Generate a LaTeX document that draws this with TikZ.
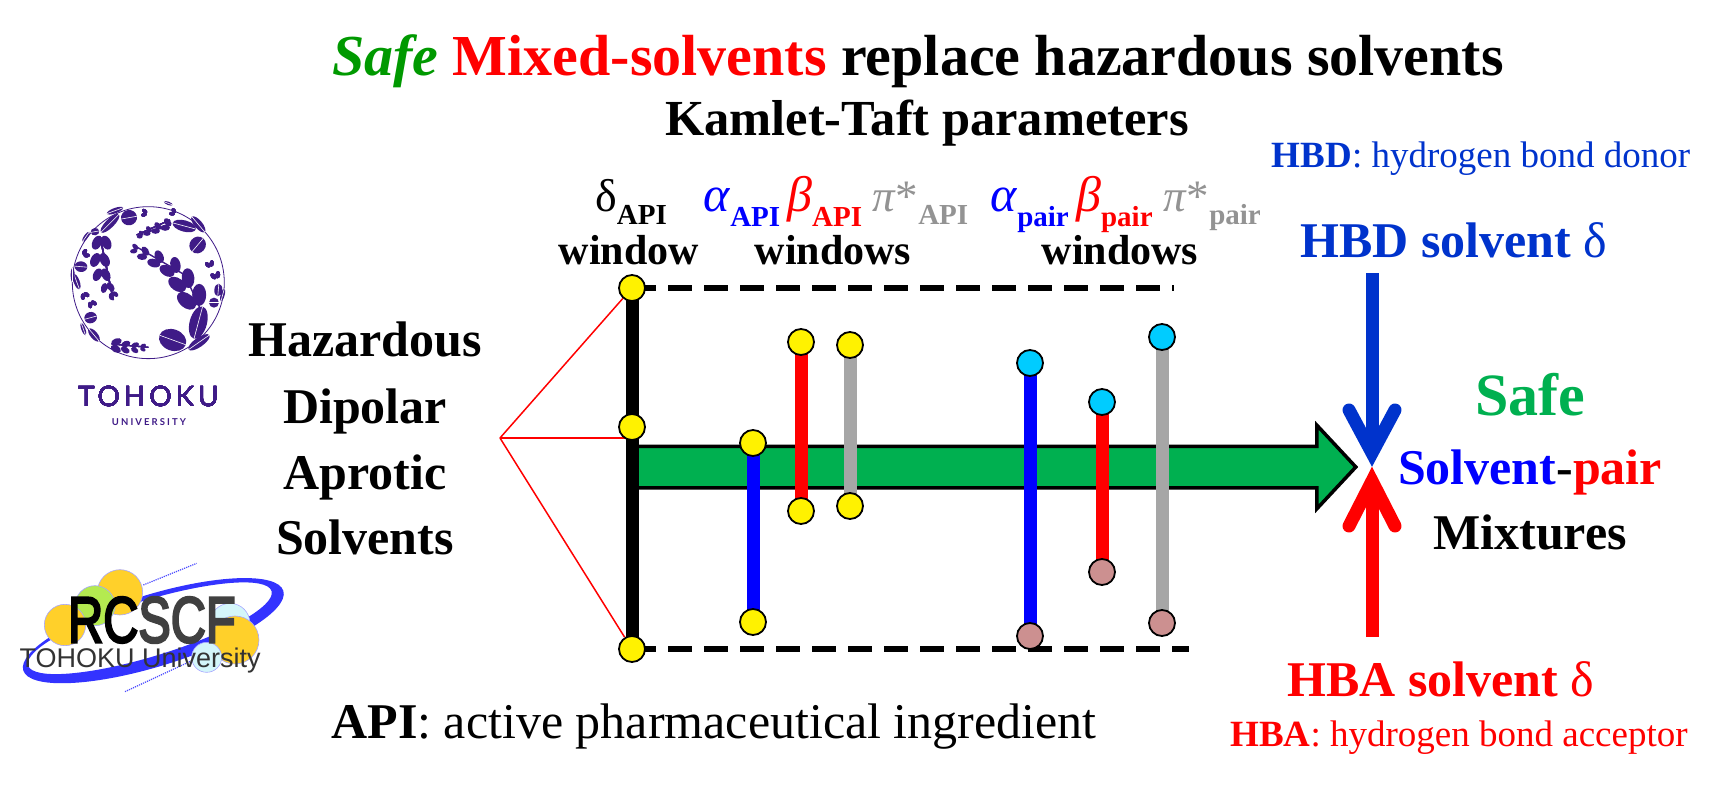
\documentclass[tikz,border=0pt]{standalone}
\usepackage{fontspec}
\setmainfont{Liberation Serif}
\newfontfamily\logofont{Liberation Sans}
\newfontfamily\rcfont[FakeBold=4]{Liberation Sans}
\newfontfamily\tohokufont[LetterSpace=14]{Lato}
\newfontfamily\tohokusmall[LetterSpace=22]{Lato}
\usetikzlibrary{
  shapes,
  backgrounds,  % Predefined layer named "background"
}
\definecolor{safegreen}{HTML}{00B050}
\definecolor{titlegreen}{HTML}{009900}
\definecolor{hbdblue}{HTML}{0033CC}
\definecolor{winblue}{HTML}{0000FF}
\definecolor{wingray}{HTML}{A6A6A6}
\definecolor{textgray}{HTML}{939393}
\definecolor{endcyan}{HTML}{00CCFF}
\definecolor{endbrown}{HTML}{CC9090}
\definecolor{tohoku}{HTML}{3F1B87}
\definecolor{rcyellow}{HTML}{FFD02A}
\definecolor{rcgreen}{HTML}{B4EA50}
\definecolor{rccyan}{HTML}{D4F6FA}
\def\mybarwidth{13pt}
\newcommand{\fs}[1]{\fontsize{#1}{#1}\selectfont}
\newcommand{\kt}[3]{\textcolor{#1}{#2\raisebox{-0.3em}{\fs{29}\bfseries #3}}}
\newcommand{\sprig}[4]{
  \fill[tohoku,shift={(#1,#2)},rotate=-#3,scale=#4]
    (-7,-9) ellipse [x radius=7,y radius=11,rotate=25]
    (7,-9) ellipse [x radius=7,y radius=11,rotate=-25];
}
\newcommand{\leafy}[5]{
  \fill[tohoku,shift={(#1,#2)},rotate=-#3] (0,0) ellipse [x radius=#4,y radius=#5];
  \draw[white,line width=0.6pt,shift={(#1,#2)},rotate=-#3] (-#4,0) -- (#4,0);
}
\tikzset{
  >=stealth,
  plain text/.style={inner sep=0,anchor=base,align=center},
  big label/.style={plain text,font=\fs{50.5}\bfseries},
  mid label/.style={plain text,font=\fs{50}\bfseries},
  small label/.style={plain text,font=\fs{37}},
  win label/.style={inner sep=0,anchor=base west,font=\fs{50}},
  pi label/.style={win label,font=\fs{45}},
  win word/.style={plain text,font=\fs{42}\bfseries},
  my end/.style={draw=black,line width=1.8pt,circle,minimum size=26pt,inner sep=0},
  yellow end/.style={my end,fill=yellow},
  cyan end/.style={my end,fill=endcyan},
  brown end/.style={my end,fill=endbrown},
  win bar/.style={line width=\mybarwidth},
  dash line/.style={line width=5.5pt,dash pattern=on 24pt off 12pt},
  red link/.style={red,line width=1.5pt},
  flow arrow/.style={
    single arrow,draw=black,fill=safegreen,line width=3.5pt,
    inner xsep=0,inner ysep=19pt,minimum width=80pt,minimum height=722pt,
    single arrow head extend=21pt,single arrow tip angle=94,anchor=west
  },
  solvent arrow/.style={line width=13pt,line cap=round,miter limit=20}
}
\begin{document}
\begin{tikzpicture}[x=1pt,y=-1pt]
\useasboundingbox (0,0) rectangle (1714,787);
% titles
\node[plain text,font=\fs{58}\bfseries] (title) at (918,75)
  {\textcolor{titlegreen}{\textit{Safe}} \textcolor{red}{Mixed-solvents} replace hazardous solvents};
\node[big label] (kamlet) at (927,135) {Kamlet-Taft parameters};
\node[small label] (hbdnote) at (1481,167) {\textcolor{hbdblue}{\textbf{HBD}: hydrogen bond donor}};
\node[mid label,hbdblue] (hbdname) at (1454,257) {HBD solvent \textnormal{δ}};
\node[plain text,font=\fs{60}\bfseries,safegreen] (safe) at (1530,415) {Safe};
\node[mid label] (pair) at (1530,484) {\textcolor{winblue}{Solvent}-\textcolor{red}{pair}};
\node[mid label] (mixtures) at (1530,549) {Mixtures};
\node[mid label,red] (hbaname) at (1441,696) {HBA solvent \textnormal{δ}};
\node[small label,red] (hbanote) at (1459,746) {\textbf{HBA}: hydrogen bond acceptor};
\node[plain text,font=\fs{50}] (apinote) at (714,738) {\textbf{API}: active pharmaceutical ingredient};
\node[mid label] (haz1) at (365,356) {Hazardous};
\node[mid label] (haz2) at (365,423) {Dipolar};
\node[mid label] (haz3) at (365,489) {Aprotic};
\node[mid label] (haz4) at (365,554) {Solvents};
% window headings
\node[win label,font=\fs{46}] (dlabel) at (595,211) {\kt{black}{δ}{API}};
\node[win word] (dwin) at (629,264) {window};
\node[win label] (alabel) at (703,211) {\kt{winblue}{\textit{α}}{API}};
\node[win label] (blabel) at (787,211) {\kt{red}{\textit{β}}{API}};
\node[pi label] (plabel) at (872,211) {\kt{textgray}{\textit{π}*}{API}};
\node[win word] (awin) at (833,264) {windows};
\node[win label] (a2label) at (990,211) {\kt{winblue}{\textit{α}}{pair}};
\node[win label] (b2label) at (1076,211) {\kt{red}{\textit{β}}{pair}};
\node[pi label] (p2label) at (1163,211) {\kt{textgray}{\textit{π}*}{pair}};
\node[win word] (a2win) at (1120,264) {windows};
% window ends
\node[yellow end] (dtop) at (632,288) {};
\node[yellow end] (dmid) at (632,427) {};
\node[yellow end] (dbot) at (632,649) {};
\node[yellow end] (atop) at (753,443) {};
\node[yellow end] (abot) at (753,622) {};
\node[yellow end] (btop) at (801,342) {};
\node[yellow end] (bbot) at (801,511) {};
\node[yellow end] (ptop) at (850,345) {};
\node[yellow end] (pbot) at (850,506) {};
\node[cyan end]   (a2top) at (1030,363) {};
\node[brown end]  (a2bot) at (1030,636) {};
\node[cyan end]   (b2top) at (1102,402) {};
\node[brown end]  (b2bot) at (1102,572) {};
\node[cyan end]   (p2top) at (1162,337) {};
\node[brown end]  (p2bot) at (1162,623) {};
\coordinate (dashtop) at (1174,288);
\coordinate (dashbot) at (1189,649);
\coordinate (fan) at (500,438);
\coordinate (fanmid) at (628,438);
% solvent arrows
\coordinate (hbdtail) at (1372,273);
\coordinate (hbdtip)  at (1372,453);
\coordinate (hbdl)    at (1349,410);
\coordinate (hbdr)    at (1395,410);
\coordinate (hbatail) at (1372,637);
\coordinate (hbatip)  at (1372,481);
\coordinate (hbal)    at (1349,526);
\coordinate (hbar)    at (1395,526);
\draw[solvent arrow,hbdblue,line cap=butt] (hbdtail) -- (hbdtip);
\draw[solvent arrow,hbdblue] (hbdl) -- (hbdtip) -- (hbdr);
\draw[solvent arrow,red,line cap=butt] (hbatail) -- (hbatip);
\draw[solvent arrow,red] (hbal) -- (hbatip) -- (hbar);
\begin{scope}[on background layer]
  \path[red link] (fan) edge (dtop) edge (fanmid) edge (dbot);
  \node[flow arrow] (flow) at (632,467) {};
  \draw[dash line] (dtop.center) -- (dashtop);
  \draw[dash line] (dbot.center) -- (dashbot);
  \draw[win bar,black]    (dtop.center) -- (dbot.center);
  \draw[win bar,winblue]  (atop.center) -- (abot.center);
  \draw[win bar,red]      (btop.center) -- (bbot.center);
  \draw[win bar,wingray]  (ptop.center) -- (pbot.center);
  \draw[win bar,winblue]  (a2top.center) -- (a2bot.center);
  \draw[win bar,red]      (b2top.center) -- (b2bot.center);
  \draw[win bar,wingray]  (p2top.center) -- (p2bot.center);
\end{scope}
% university mark
\begin{scope}[shift={(0,180)},x=0.3333pt,y=-0.3333pt]
  \draw[tohoku,line width=0.8pt] (445,308) circle [radius=228];
  \leafy{387}{113}{-10}{24}{23}
  \leafy{593}{195}{-50}{26}{24}
  \leafy{272}{413}{-15}{19}{17}
  \leafy{243}{260}{5}{19}{16}
  \leafy{642}{368}{0}{15}{15}
  \leafy{655}{330}{-85}{19}{12}
  \leafy{285}{155}{-10}{13}{11}
  \leafy{330}{130}{-45}{38}{13}
  \leafy{345}{92}{-20}{26}{8}
  \leafy{553}{138}{15}{36}{17}
  \leafy{595}{133}{50}{30}{12}
  \leafy{595}{428}{-75}{50}{26}
  \leafy{518}{480}{20}{42}{32}
  \leafy{597}{487}{-35}{38}{14}
  \leafy{282}{465}{50}{24}{11}
  \leafy{250}{447}{70}{20}{6}
  \leafy{230}{305}{70}{24}{9}
  \leafy{218}{285}{90}{22}{6}
  \leafy{668}{345}{-75}{20}{6}
  \leafy{258}{170}{-55}{18}{6}
  \leafy{505}{70}{20}{14}{5}
  \draw[tohoku,line width=1.4pt] (600,385) -- (555,285) -- (400,195);
  \foreach \x/\y/\r/\s in {590/378/-25/3.0,560/325/-30/2.7,525/280/-35/2.2,482/250/-50/1.8,442/228/-60/1.4,412/210/-70/1.0}
    \sprig{\x}{\y}{\r}{\s}
  \draw[tohoku,line width=1.4pt] (340,360) -- (300,170);
  \foreach \x/\y/\r/\s in {305/170/180/2.0,300/222/180/2.0,305/268/180/1.8,320/310/170/1.4,335/338/150/1.0}
    \sprig{\x}{\y}{\r}{\s}
  \draw[tohoku,line width=1.2pt] (510,120) -- (410,165);
  \foreach \x/\y/\r/\s in {510/140/-65/1.3,480/150/-65/1.2,452/158/-65/1.0,428/168/-65/0.8}
    \sprig{\x}{\y}{\r}{\s}
  \draw[tohoku,line width=1.2pt] (335,492) -- (445,502);
  \foreach \x/\y/\r/\s in {335/495/95/1.5,365/500/95/1.3,395/502/95/1.1,422/502/95/0.8}
    \sprig{\x}{\y}{\r}{\s}
  \foreach \x/\y/\r/\s in {250/340/150/0.9,272/365/150/0.9,250/225/60/0.9,632/260/-20/0.9,650/295/-20/1.0,440/100/-80/0.8,525/100/-60/0.8}
    \sprig{\x}{\y}{\r}{\s}
  \node[inner sep=0,tohoku,font=\tohokufont\fs{28}] (tohokuname) at (445,650) {TOHOKU};
  \node[inner sep=0,tohoku,font=\tohokusmall\fs{9.5}\bfseries] (tohokuuni) at (447,725) {UNIVERSITY};
\end{scope}
% centre mark
\begin{scope}[shift={(0,540)},x=0.3333pt,y=-0.3333pt]
  \draw[winblue!70,densely dotted,line width=1.2pt] (430,135) -- (590,70);
  \draw[winblue!70,densely dotted,line width=1.2pt] (375,455) -- (580,360);
  \fill[winblue!80,even odd rule,rotate around={17:(460,272)}]
    (460,272) ellipse [x radius=408,y radius=108]
    (452,262) ellipse [x radius=382,y radius=84];
  \foreach \x/\y/\r/\c in {360/157/68/rcyellow,285/197/60/rcgreen,195/255/62/rcyellow,690/250/60/rccyan,705/300/72/rcyellow,620/352/45/rccyan}
    \filldraw[draw=winblue!35,line width=0.6pt,fill=\c] (\x,\y) circle [radius=\r];
  \node[inner sep=0,anchor=west,font=\rcfont\fs{54},xscale=0.9,yscale=1.2] (rcscf) at (204,240)
    {\textcolor{black}{RC}\textcolor{black!75}{SCF}};
  \node[inner sep=0,anchor=west,font=\logofont\fs{27},text=black!80] (rcuni) at (58,362) {TOHOKU University};
\end{scope}
\end{tikzpicture}
\end{document}
